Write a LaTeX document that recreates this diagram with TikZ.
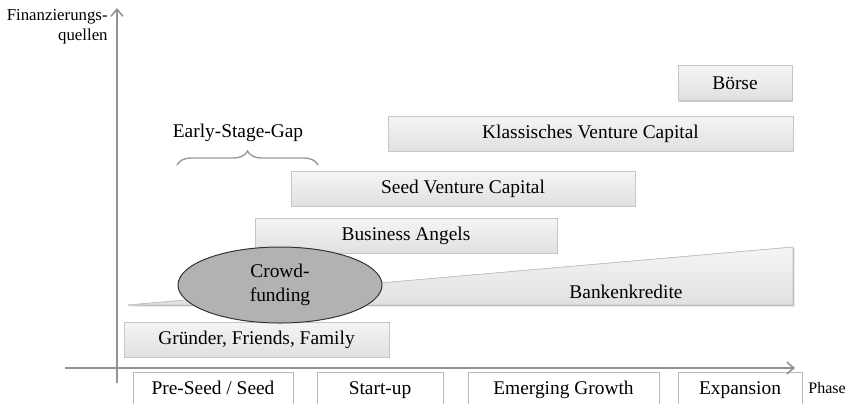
\documentclass[tikz,border=0pt]{standalone}
\usepackage{fontspec}
\setmainfont{Liberation Serif}
\usetikzlibrary{arrows.meta,shapes.geometric,shadows,decorations.pathreplacing}

\begin{document}
\begin{tikzpicture}[x=0.5pt,y=-0.5pt,font=\rmfamily]

% Styles
\tikzset{
    source/.style={
        draw=gray!45,
        line width=0.4pt,
        top color=gray!8,
        bottom color=gray!24,
        drop shadow={shadow xshift=0.7pt,shadow yshift=-0.7pt,fill=gray!70,opacity=0.6},
        minimum height=17.5pt,
        inner sep=0pt,
        font=\rmfamily\fontsize{9.7}{11}\selectfont
    },
    phasebox/.style={
        draw=gray!55,
        fill=white,
        line width=0.5pt,
        minimum height=20pt,
        inner sep=0pt,
        font=\rmfamily\fontsize{9.7}{11}\selectfont
    },
    axis/.style={
        draw=gray!85,
        line width=1.1pt,
        -{Straight Barb[length=3.5pt,width=6pt,line width=0.8pt]}
    }
}

\useasboundingbox (0,0) rectangle (854,403);

% Phase boxes
\node[phasebox,minimum width=80pt] (preseed) at (213,392) {\raisebox{4pt}{Pre-Seed / Seed}};
\node[phasebox,minimum width=63pt] (startup) at (380,392) {\raisebox{4pt}{Start-up}};
\node[phasebox,minimum width=95.5pt] (emerging) at (563.5,392) {\raisebox{4pt}{Emerging Growth}};
\node[phasebox,minimum width=62pt] (expansion) at (740,392) {\raisebox{4pt}{Expansion}};

% Axes
\coordinate (ystart) at (117,383);
\coordinate (yend) at (117,8);
\coordinate (xstart) at (65,368);
\coordinate (xend) at (795,368);
\draw[axis] (ystart) -- (yend);
\draw[axis] (xstart) -- (xend);

\node[anchor=east,align=right,inner sep=0pt,
    font=\rmfamily\fontsize{8.4}{10}\selectfont] (ylabel) at (108,27) {Finanzierungs-\\quellen};
\node[anchor=west,inner sep=0pt,
    font=\rmfamily\fontsize{8}{9}\selectfont] (xlabel) at (808,388) {Phase};

% Bankenkredite wedge
\coordinate (bkleft) at (128,305);
\coordinate (bktop) at (793,247);
\coordinate (bkbottom) at (793,305);
\filldraw
[
    draw=gray!45,
    line width=0.4pt,
    top color=gray!8,
    bottom color=gray!24,
    drop shadow={shadow xshift=0.7pt,shadow yshift=-0.7pt,fill=gray!70,opacity=0.6}
] (bkleft) -- (bktop) -- (bkbottom) -- cycle;
\node[font=\rmfamily\fontsize{9.7}{11}\selectfont] (bank) at (626,292) {Bankenkredite};

% Financing sources
\node[source,minimum width=57pt] (boerse) at (735,83) {Börse};
\node[source,minimum width=202.5pt] (classic) at (590.5,133.5) {Klassisches Venture Capital};
\node[source,minimum width=172pt] (seedvc) at (463,188.5) {Seed Venture Capital};
\node[source,minimum width=151pt] (angels) at (406,235.5) {Business Angels};
\node[source,minimum width=132.5pt] (founder) at (256.5,339.5) {Gründer, Friends, Family};

% Crowdfunding
\node
[
    ellipse,
    draw=gray!40!black,
    fill=gray!60,
    line width=0.5pt,
    minimum width=102pt,
    minimum height=38pt,
    inner sep=0pt,
    align=center,
    font=\rmfamily\fontsize{9.7}{12}\selectfont
] (crowd) at (280,285) {Crowd-\\funding};

% Early-stage gap
\coordinate (gapleft) at (177,165);
\coordinate (gapright) at (318,165);
\draw[gray!80,line width=0.7pt,decorate,decoration={brace,amplitude=7pt}]
    (gapleft) -- (gapright);
\node[font=\rmfamily\fontsize{9.7}{11}\selectfont] (gap) at (238,133) {Early-Stage-Gap};

\end{tikzpicture}
\end{document}
